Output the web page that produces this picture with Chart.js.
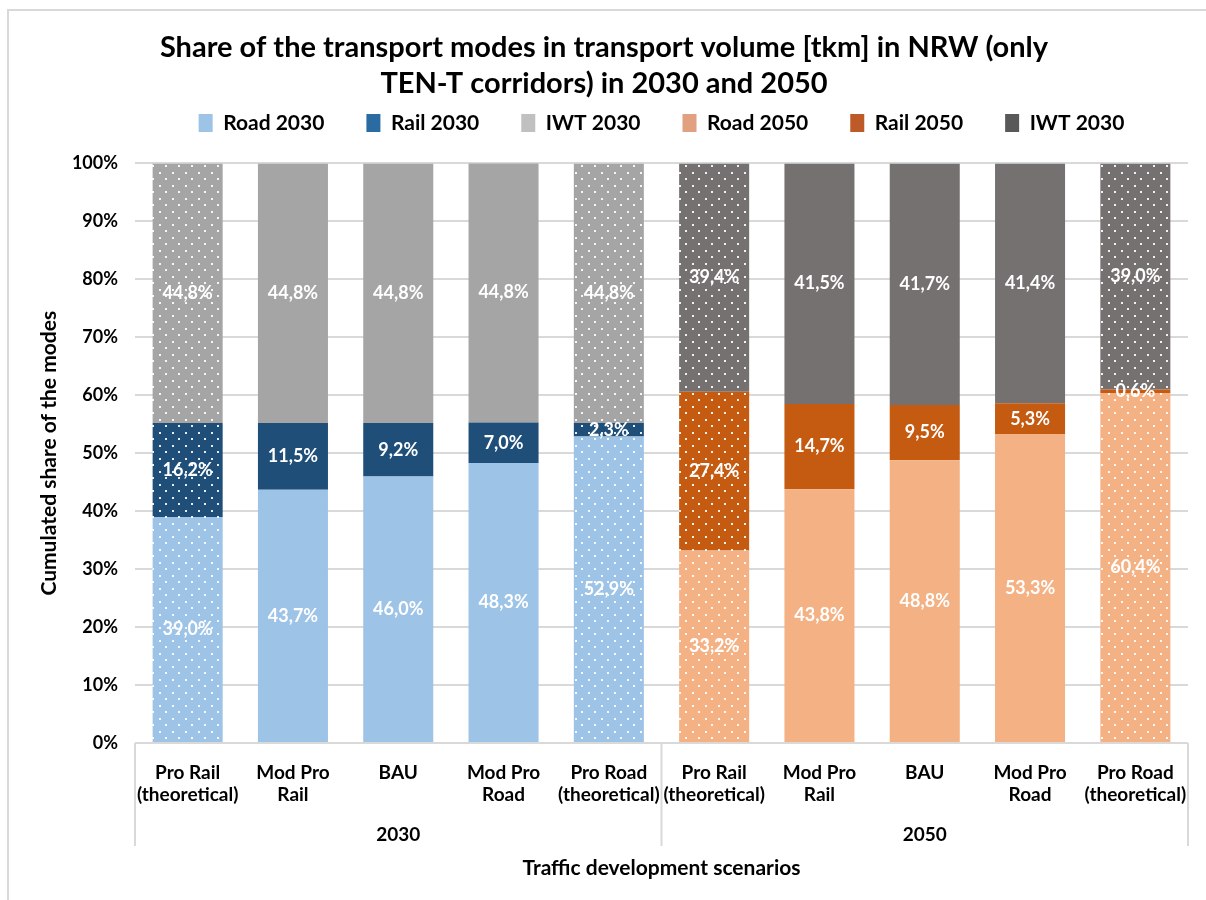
<!DOCTYPE html>
<html lang="en">
<head>
<meta charset="UTF-8" />
<title>Share of the transport modes</title>
<script src="https://cdn.jsdelivr.net/npm/chart.js@4.4.1/dist/chart.umd.min.js"></script>
<style>
	html, body { margin:0; padding:0; background:#FFFFFF; }
	#wrap { position:relative; width:1206px; height:900px; }
</style>
</head>
<body>
<div id="wrap"><canvas id="modes_chart"></canvas></div>

<script>
// scenarios (category axis) and the year groups under them
const scenarios = [
	['Pro Rail', '(theoretical)'], ['Mod Pro', 'Rail'], ['BAU'], ['Mod Pro', 'Road'], ['Pro Road', '(theoretical)'],
	['Pro Rail', '(theoretical)'], ['Mod Pro', 'Rail'], ['BAU'], ['Mod Pro', 'Road'], ['Pro Road', '(theoretical)']
];
const yearGroups = ['2030', '2050'];
const groupSize = 5;

// shares in %, null where the series does not belong to that year
const road2030 = [39.0, 43.7, 46.0, 48.3, 52.9, null, null, null, null, null];
const rail2030 = [16.2, 11.5, 9.2, 7.0, 2.3, null, null, null, null, null];
const iwt2030  = [44.8, 44.8, 44.8, 44.8, 44.8, null, null, null, null, null];
const road2050 = [null, null, null, null, null, 33.2, 43.8, 48.8, 53.3, 60.4];
const rail2050 = [null, null, null, null, null, 27.4, 14.7, 9.5, 5.3, 0.6];
const iwt2050  = [null, null, null, null, null, 39.4, 41.5, 41.7, 41.4, 39.0];

// the theoretical scenarios get a dotted fill
const dotted = [true, false, false, false, true, true, false, false, false, true];

const seriesNames  = ['Road 2030', 'Rail 2030', 'IWT 2030', 'Road 2050', 'Rail 2050', 'IWT 2030'];
const barColors    = ['#9DC3E6', '#1F4E79', '#A5A5A5', '#F4B183', '#C55A11', '#767171'];
const legendColors = ['#9DC3E6', '#2A6BA1', '#C0C0C0', '#E1A07F', '#BE5A27', '#595959'];

const yTicks = [0, 10, 20, 30, 40, 50, 60, 70, 80, 90, 100];

const FONT = 'Lato, "Open Sans", sans-serif';
const GRID = '#D9D9D9';

//dot pattern on top of a colour
function dotPattern(color)
{
	const c = document.createElement('canvas');
	c.width = 13; c.height = 13;
	const g = c.getContext('2d');
	g.fillStyle = color;
	g.fillRect(0, 0, 13, 13);
	g.fillStyle = 'rgba(255,255,255,0.9)';
	g.fillRect(3, 3, 2, 2);
	g.fillRect(9, 9, 2, 2);
	return g.createPattern(c, 'repeat');
}

function makeSet(label, data, idx)
{
	const pat = dotPattern(barColors[idx]);
	return {
		label: label,
		data: data,
		backgroundColor: (ctx) => dotted[ctx.dataIndex] ? pat : barColors[idx],
		borderWidth: 0,
		barPercentage: 0.665,
		categoryPercentage: 1.0,
		stack: 'modes'
	};
}

const allSeries = [road2030, rail2030, iwt2030, road2050, rail2050, iwt2050];

//value labels in the middle of each segment
const valueLabels = {
	id: 'valueLabels',
	afterDatasetsDraw(chart)
	{
		const ctx = chart.ctx;
		ctx.save();
		ctx.font = 'bold 18px ' + FONT;
		ctx.fillStyle = '#FFFFFF';
		ctx.textAlign = 'center';
		ctx.textBaseline = 'middle';
		chart.data.datasets.forEach((ds, i) => {
			const meta = chart.getDatasetMeta(i);
			meta.data.forEach((bar, j) => {
				const v = ds.data[j];
				if (v === null) return;
				const txt = v.toFixed(1).replace('.', ',') + '%';
				ctx.fillText(txt, bar.x, (bar.y + bar.base) / 2);
			});
		});
		ctx.restore();
	}
};

//frame, year groups and separators under the category axis
const groupAxis = {
	id: 'groupAxis',
	beforeLayout(chart)
	{
		const lg = chart.legend;
		if (lg && !lg._patched)
		{
			const fit = lg.fit;
			lg.fit = function () { fit.call(this); this.height += 20; };
			lg._patched = true;
		}
	},
	beforeDraw(chart)
	{
		const ctx = chart.ctx;
		ctx.save();
		ctx.fillStyle = '#FFFFFF';
		ctx.fillRect(0, 0, chart.width, chart.height);
		ctx.strokeStyle = GRID;
		ctx.lineWidth = 2;
		ctx.beginPath();
		ctx.moveTo(8, chart.height);
		ctx.lineTo(8, 10);
		ctx.lineTo(chart.width, 10);
		ctx.stroke();
		ctx.restore();
	},
	afterDraw(chart)
	{
		const ctx = chart.ctx;
		const xs = chart.scales.x;
		const bottom = chart.chartArea.bottom;
		ctx.save();
		ctx.strokeStyle = GRID;
		ctx.lineWidth = 2;
		const edges = [xs.left];
		for (let g = 1; g < yearGroups.length; g++)
		{
			edges.push((xs.getPixelForValue(g * groupSize - 1) + xs.getPixelForValue(g * groupSize)) / 2);
		}
		edges.push(xs.right);
		edges.forEach((x) => {
			ctx.beginPath();
			ctx.moveTo(x, bottom);
			ctx.lineTo(x, bottom + 103);
			ctx.stroke();
		});
		ctx.font = 'bold 19px ' + FONT;
		ctx.fillStyle = '#000000';
		ctx.textAlign = 'center';
		ctx.textBaseline = 'middle';
		yearGroups.forEach((yr, g) => {
			const a = xs.getPixelForValue(g * groupSize);
			const b = xs.getPixelForValue(g * groupSize + groupSize - 1);
			ctx.fillText(yr, (a + b) / 2, bottom + 92);
		});
		ctx.restore();
	}
};

let modesChart = new Chart(document.getElementById('modes_chart'), {
	type: 'bar',
	data: {
		labels: scenarios,
		datasets: allSeries.map((d, i) => makeSet(seriesNames[i], d, i))
	},
	options: {
		responsive: true,
		maintainAspectRatio: false,
		animation: false,
		layout: { padding: { top: 14, left: 20, right: 18, bottom: 17 } },
		scales: {
			x: {
				stacked: true,
				grid: { display: false, drawTicks: false },
				border: { display: false },
				ticks: {
					autoSkip: false,
					maxRotation: 0,
					padding: 18,
					color: '#000000',
					font: { family: FONT, size: 19, weight: 'bold', lineHeight: 1.2 }
				},
				title: {
					display: true,
					text: 'Traffic development scenarios',
					color: '#000000',
					padding: { top: 4, bottom: 2 },
					font: { family: FONT, size: 21, weight: 'bold', lineHeight: 1.2 }
				},
				afterFit: (s) => { s.height = 140; }
			},
			y: {
				stacked: true,
				min: 0,
				max: 100,
				afterBuildTicks: (s) => { s.ticks = yTicks.map((v) => ({ value: v })); },
				grid: { color: GRID, lineWidth: 2, drawTicks: false },
				border: { display: false },
				ticks: {
					padding: 17,
					color: '#000000',
					font: { family: FONT, size: 18, weight: 'bold' },
					callback: (v) => v + '%'
				},
				title: {
					display: true,
					text: 'Cumulated share of the modes',
					color: '#000000',
					padding: { top: 17, bottom: 0 },
					font: { family: FONT, size: 21, weight: 'bold', lineHeight: 1.2 }
				},
				afterFit: (s) => { s.width = 115; }
			}
		},
		plugins: {
			title: {
				display: true,
				text: ['Share of the transport modes in transport volume [tkm] in NRW (only', 'TEN-T corridors) in 2030 and 2050'],
				color: '#000000',
				padding: { top: 16, bottom: -31.5 },
				font: { family: FONT, size: 29, weight: 'bold', lineHeight: 1.24 }
			},
			legend: {
				display: true,
				position: 'top',
				fullSize: false,
				labels: {
					boxWidth: 14,
					boxHeight: 18,
					padding: 42,
					color: '#000000',
					font: { family: FONT, size: 21, weight: 'bold' },
					generateLabels: (chart) => chart.data.datasets.map((ds, i) => ({
						text: ds.label,
						fillStyle: legendColors[i],
						strokeStyle: legendColors[i],
						lineWidth: 0,
						fontColor: '#000000',
						datasetIndex: i,
						hidden: false
					}))
				}
			},
			tooltip: { enabled: false }
		}
	},
	plugins: [valueLabels, groupAxis]
});
</script>
</body>
</html>
